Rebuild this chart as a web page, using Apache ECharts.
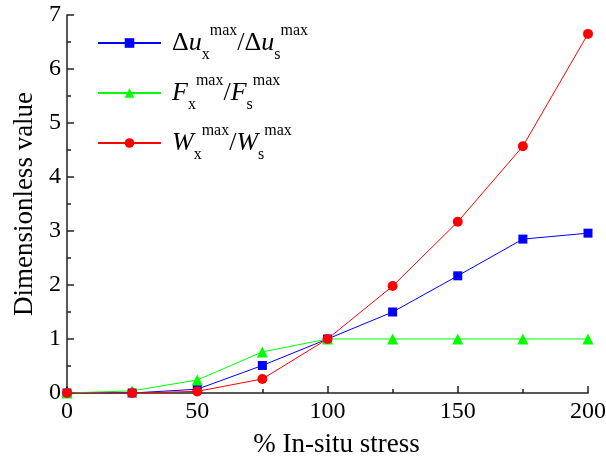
<!DOCTYPE html>
<html>
<head>
<meta charset="utf-8">
<script src="https://cdn.jsdelivr.net/npm/echarts@6/dist/echarts.min.js"></script>
<style>html,body{margin:0;padding:0;background:#fff}#c{width:606px;height:459px}</style>
</head>
<body>
<div id="c"></div>
<script>
var xValues = [0, 25, 50, 75, 100, 125, 150, 175, 200];
var duRatio = [0, 0, 0.07, 0.51, 1.0, 1.5, 2.17, 2.85, 2.96];
var fRatio = [0, 0.04, 0.24, 0.76, 1.0, 1.0, 1.0, 1.0, 1.0];
var wRatio = [0, 0, 0.03, 0.26, 1.0, 1.98, 3.17, 4.57, 6.65];
var seriesNames = ['du', 'F', 'W'];
var xTitle = '% In-situ stress';
var yTitle = 'Dimensionless value';

function pairs(ys) { return xValues.map(function (x, i) { return [x, ys[i]]; }); }

var legendText = {
  du: '{m|Δ}{i|u}{sub|x}{sup|max}{m|/Δ}{i|u}{sub|s}{sup|max}',
  F: '{i|F}{sub|x}{sup|max}{m|/}{i|F}{sub|s}{sup|max}',
  W: '{i|W}{sub|x}{sup|max}{m|/}{i|W}{sub|s}{sup|max}'
};

var serif = 'Liberation Serif';
var chart = echarts.init(document.getElementById('c'), null, {renderer: 'canvas'});
chart.setOption({
  animation: false,
  backgroundColor: '#fff',
  grid: {left: 67, right: 18, top: 15, bottom: 66, outerBoundsMode: 'none', containLabel: false},
  legend: {
    orient: 'vertical', left: 97, top: 23, padding: 0, itemWidth: 63, itemHeight: 12, itemGap: 10,
    data: seriesNames,
    formatter: function (n) { return legendText[n]; },
    textStyle: {
      fontFamily: serif, color: '#000', padding: [0, 0, 0, 6],
      rich: {
        m: {fontFamily: serif, fontSize: 26, color: '#000', lineHeight: 40, verticalAlign: 'middle'},
        i: {fontFamily: serif, fontStyle: 'italic', fontSize: 26, color: '#000', lineHeight: 40, verticalAlign: 'middle'},
        sub: {fontFamily: serif, fontSize: 16, color: '#000', lineHeight: 14, verticalAlign: 'bottom'},
        sup: {fontFamily: serif, fontSize: 16, color: '#000', lineHeight: 14, verticalAlign: 'top'}
      }
    }
  },
  xAxis: {
    type: 'value', min: 0, max: 200, interval: 50,
    name: xTitle, nameLocation: 'middle', nameGap: 38,
    nameTextStyle: {fontFamily: serif, fontSize: 27, color: '#000', padding: [0, 0, 0, 18]},
    axisLine: {show: true, lineStyle: {color: '#222', width: 1.5}},
    axisTick: {show: true, inside: true, length: 7, lineStyle: {color: '#222', width: 1.5}},
    minorTick: {show: true, splitNumber: 2, length: 4, lineStyle: {color: '#222', width: 1.5}},
    axisLabel: {fontFamily: serif, fontSize: 24, color: '#000', margin: 7},
    splitLine: {show: false}
  },
  yAxis: {
    type: 'value', min: 0, max: 7, interval: 1,
    name: yTitle, nameLocation: 'middle', nameGap: 28, nameRotate: 90,
    nameTextStyle: {fontFamily: serif, fontSize: 27, color: '#000'},
    axisLine: {show: true, lineStyle: {color: '#222', width: 1.5}},
    axisTick: {show: true, inside: true, length: 7, lineStyle: {color: '#222', width: 1.5}},
    minorTick: {show: true, splitNumber: 2, length: 4, lineStyle: {color: '#222', width: 1.5}},
    axisLabel: {fontFamily: serif, fontSize: 24, color: '#000', margin: 6},
    splitLine: {show: false}
  },
  series: [
    {name: 'du', type: 'line', data: pairs(duRatio), symbol: 'rect', symbolSize: 9,
     itemStyle: {color: '#0000ff'}, lineStyle: {color: '#0000ff', width: 1}},
    {name: 'F', type: 'line', data: pairs(fRatio), symbol: 'triangle', symbolSize: 11,
     itemStyle: {color: '#00ff00'}, lineStyle: {color: '#00ff00', width: 1}},
    {name: 'W', type: 'line', data: pairs(wRatio), symbol: 'circle', symbolSize: 10,
     itemStyle: {color: '#ff0000'}, lineStyle: {color: '#ff0000', width: 1}, z: 3}
  ]
});
</script>
</body>
</html>
